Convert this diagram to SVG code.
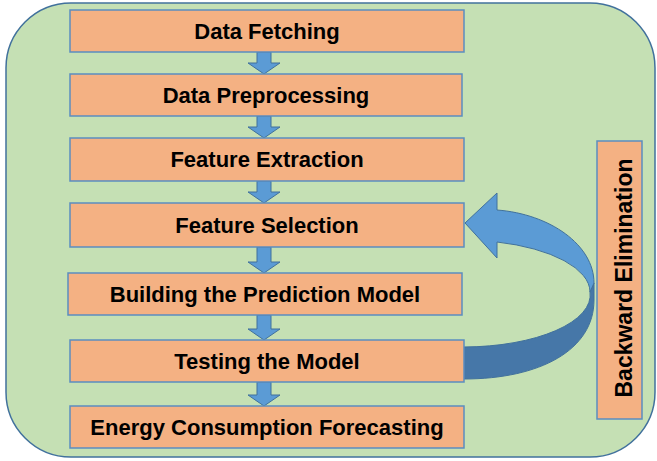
<svg xmlns="http://www.w3.org/2000/svg" width="657" height="461" viewBox="0 0 657 461">
<style>
.bg{fill:#C5E0B4;stroke:#41719C;stroke-width:1.5}
.box{fill:#F4B183;stroke:#5B8DC0;stroke-width:1.5}
.t{font-family:"Liberation Sans",Arial,sans-serif;font-weight:bold;font-size:22px;fill:#000;text-anchor:middle}
.arr{fill:#5B9BD5;stroke:#41719C;stroke-width:1}
.dark{fill:#4677A8;stroke:#41719C;stroke-width:1}
</style>
<defs>
<path id="dn" d="M-7,0 H7 V11 H16 L0,22 L-16,11 H-7 Z"/>
</defs>
<rect class="bg" x="6" y="3" width="649" height="454" rx="65" ry="65"/>
<g id="connectors">
<use href="#dn" class="arr" transform="translate(264,52)"/>
<use href="#dn" class="arr" transform="translate(264,116)"/>
<use href="#dn" class="arr" transform="translate(264,181)"/>
<g transform="translate(264,247)"><path class="arr" d="M-7,0 H7 V15 H16 L0,26 L-16,15 H-7 Z"/></g>
<g transform="translate(264,315)"><path class="arr" d="M-7,0 H7 V14 H16 L0,25 L-16,14 H-7 Z"/></g>
<g transform="translate(264,382)"><path class="arr" d="M-7,0 H7 V13 H16 L0,24 L-16,13 H-7 Z"/></g>
<g id="feedback">
<path class="dark" d="M464,347 A127,52 0 0 0 590,292 L594,283 L594,300 C594,350 540,379 464,379 Z"/>
<path class="arr" d="M465,223 L497,193 L497,210 C550,214 594,245 594,283 L590,292 A127,52 0 0 0 497,242 L497,258 Z"/>
</g>
</g>
<g id="n1"><rect class="box" x="70" y="10" width="394" height="42"/><text class="t" x="267" y="39">Data Fetching</text></g>
<g id="n2"><rect class="box" x="70" y="74" width="392" height="42"/><text class="t" x="266" y="103">Data Preprocessing</text></g>
<g id="n3"><rect class="box" x="70" y="138" width="394" height="43"/><text class="t" x="267" y="167">Feature Extraction</text></g>
<g id="n4"><rect class="box" x="70" y="203" width="394" height="44"/><text class="t" x="267" y="233">Feature Selection</text></g>
<g id="n5"><rect class="box" x="68" y="273" width="394" height="42"/><text class="t" x="265" y="302">Building the Prediction Model</text></g>
<g id="n6"><rect class="box" x="70" y="340" width="394" height="42"/><text class="t" x="267" y="369">Testing the Model</text></g>
<g id="n7"><rect class="box" x="70" y="406" width="394" height="42"/><text class="t" x="267" y="435">Energy Consumption Forecasting</text></g>
<g id="n8"><rect class="box" x="597" y="141" width="45" height="278"/><text class="t" style="font-size:23px" transform="translate(632,278) rotate(-90)" x="0" y="0">Backward Elimination</text></g>
</svg>
